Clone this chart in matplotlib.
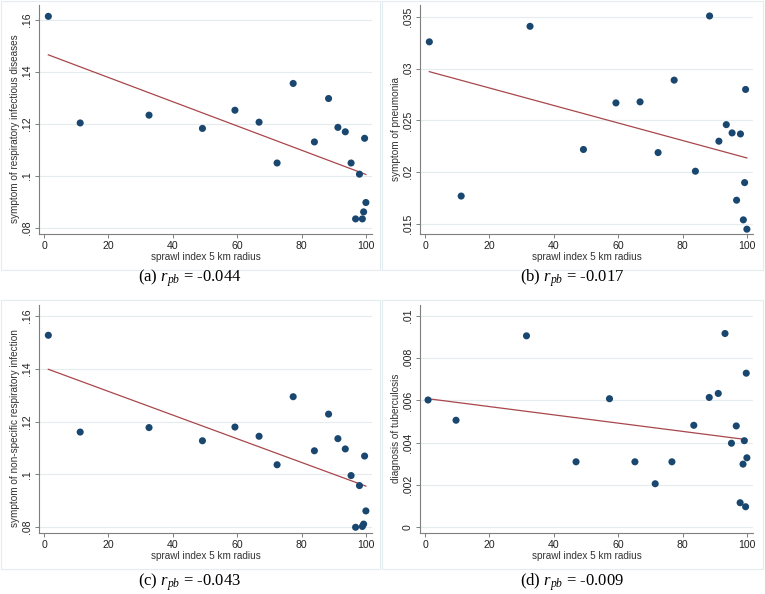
import numpy as np
import matplotlib
matplotlib.use("Agg")
import matplotlib.pyplot as plt
from matplotlib.patches import Rectangle

plt.rcParams['font.family'] = ['Liberation Sans', 'DejaVu Sans']
plt.rcParams['mathtext.fontset'] = 'custom'
plt.rcParams['mathtext.rm'] = 'Liberation Serif'
plt.rcParams['mathtext.it'] = 'Liberation Serif:italic'

# sprawl index (x)
x_abc = [1.3, 11.2, 32.6, 49.2, 59.3, 66.8, 72.4, 77.4, 84.0, 88.4,
         91.3, 93.6, 95.4, 98.0, 99.6, 96.8, 98.9, 99.3, 100.0]
x_d = [0.9, 9.6, 31.5, 46.9, 57.3, 65.2, 71.5, 76.7, 83.5, 88.3,
       91.1, 93.2, 95.2, 96.7, 97.9, 98.8, 99.2, 99.6, 100.0, 99.8]

resp_inf = [.1614, .1204, .1234, .1183, .1253, .1207, .1050, .1356, .1131, .1298,
            .1187, .1170, .1050, .1007, .1145, .0835, .0835, .0862, .0898]
pneumonia = [.0326, .0177, .0341, .0222, .0267, .0268, .0219, .0289, .0201, .0351,
             .0230, .0246, .0238, .0237, .0280, .0173, .0154, .0190, .0145]
nonspec = [.1527, .1160, .1177, .1127, .1179, .1144, .1036, .1294, .1089, .1228,
           .1135, .1096, .0995, .0957, .1069, .0799, .0802, .0811, .0861]
tuberc = [.00602, .00506, .00906, .00309, .00608, .00309, .00205, .00309, .00482, .00614,
          .00633, .00917, .00397, .00479, .00115, .00298, .00409, .00096, .00328, .00729]

# fitted line end values
fit_a = [.1466, .1006]
fit_b = [.02972, .02138]
fit_c = [.1398, .0955]
fit_d = [.00608, .00414]

ylabels = ["symptom of respiratory infectious diseases", "symptom of pneumonia",
           "symptom of non-specific respiratory infection", "diagnosis of tuberculosis"]
captions = ["(a) $r_{pb}$ = -0.044", "(b) $r_{pb}$ = -0.017",
            "(c) $r_{pb}$ = -0.043", "(d) $r_{pb}$ = -0.009"]
yticks_a = [.08, .10, .12, .14, .16]
yticks_b = [.015, .02, .025, .03, .035]
yticks_d = [0, .002, .004, .006, .008, .01]
yticklab_a = [".08", ".1", ".12", ".14", ".16"]
yticklab_b = [".015", ".02", ".025", ".03", ".035"]
yticklab_d = ["0", ".002", ".004", ".006", ".008", ".01"]
xticks = [0, 20, 40, 60, 80, 100]

W, H = 765, 594
fig = plt.figure(figsize=(W / 100, H / 100), dpi=100)
fig.patch.set_facecolor("white")

navy = "#1a476f"
maroon = "#a8474b"
grid_c = "#e3ecef"
box_c = "#e3ecef"


def px_axes(l, r, t, b):
    return [l / W, 1 - b / H, (r - l) / W, (b - t) / H]


def ylim_from(v1, p1, v2, p2, top, bottom):
    k = (v2 - v1) / (p2 - p1)
    return v1 + (bottom - p1) * k, v1 + (top - p1) * k


panels = [
    # box, axes px, ylim refs, data
    ((1, 380, 1, 270), (39, 372, 5, 234), (.16, 20, .08, 228), x_abc, resp_inf, fit_a,
     yticks_a, yticklab_a, 190, 278),
    ((382, 763, 1, 270), (420, 753, 5, 234), (.035, 17, .015, 224), x_abc, pneumonia, fit_b,
     yticks_b, yticklab_b, 572, 278),
    ((1, 380, 300, 569), (39, 372, 305, 533), (.16, 316, .08, 527), x_abc, nonspec, fit_c,
     yticks_a, yticklab_a, 190, 582),
    ((382, 763, 300, 569), (420, 753, 305, 533), (.01, 316, 0, 527), x_d, tuberc, fit_d,
     yticks_d, yticklab_d, 572, 582),
]

for i, (box, apx, yref, xs, ys, fit, yt, ytl, cx, cy) in enumerate(panels):
    bl, br, bt, bb = box
    fig.patches.append(Rectangle((bl / W, 1 - bb / H), (br - bl) / W, (bb - bt) / H,
                                 transform=fig.transFigure, fill=False,
                                 edgecolor=box_c, linewidth=0.8))
    ax = fig.add_axes(px_axes(*apx))
    l, r, t, b = apx
    ax.set_ylim(*ylim_from(yref[0], yref[1], yref[2], yref[3], t, b))
    # x = 0 sits about 5 px right of the spine, 100 about 6 px from the right end
    ax.set_xlim(-1.6, 101.9)

    ax.plot([min(xs), max(xs)], fit, color=maroon, linewidth=0.9, zorder=2)
    ax.scatter(xs, ys, s=26, color=navy, edgecolors="none", zorder=3)

    ax.set_yticks(yt)
    ax.set_yticklabels(ytl, rotation=90, va="center")
    ax.set_xticks(xticks)
    ax.grid(axis="y", color=grid_c, linewidth=0.8)
    ax.set_axisbelow(True)
    for s in ["top", "right"]:
        ax.spines[s].set_visible(False)
    for s in ["left", "bottom"]:
        ax.spines[s].set_color("#7f7f7f")
        ax.spines[s].set_linewidth(0.8)
    ax.tick_params(length=3, width=0.7, color="#7f7f7f", labelsize=7.6,
                   labelcolor="#222222", pad=2)
    ax.set_xlabel("sprawl index 5 km radius", fontsize=7.2, color="#333333", labelpad=1)
    ax.set_ylabel(ylabels[i], fontsize=7.2, color="#333333")
    ax.yaxis.set_label_coords(-19 / (r - l), 0.46)

    fig.text(cx / W, 1 - cy / H, captions[i], ha="center", va="center",
             fontsize=12, family="Liberation Serif")

fig.savefig("out.png", dpi=100)
